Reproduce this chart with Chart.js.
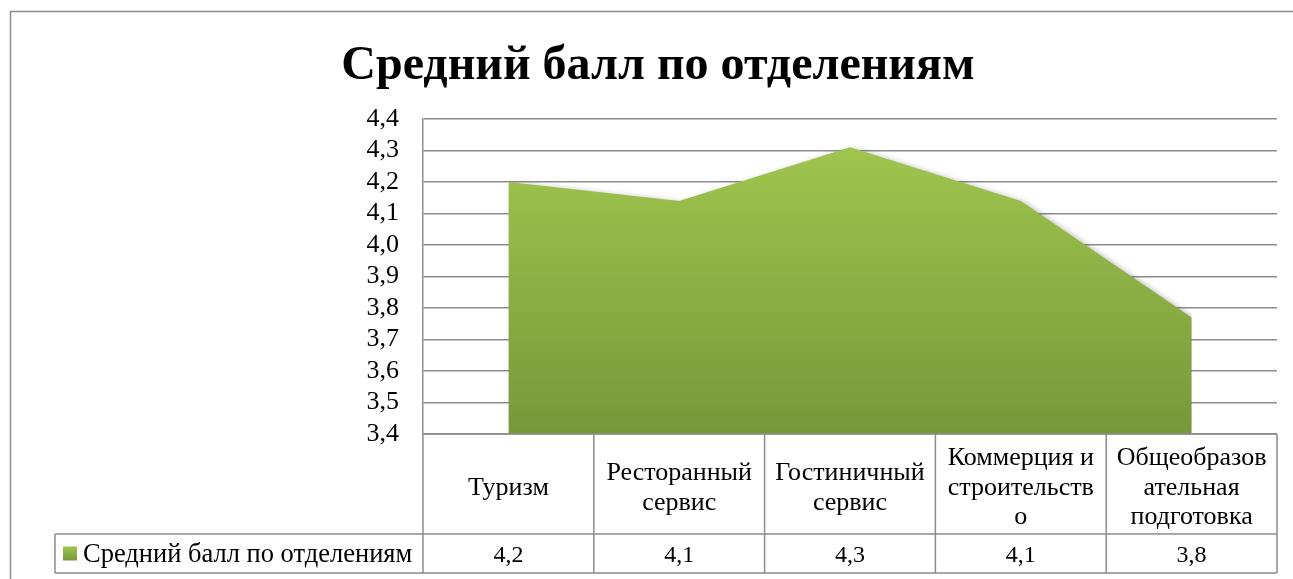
<!DOCTYPE html>
<html>
<head>
<meta charset="utf-8">
<script src="https://cdn.jsdelivr.net/npm/chart.js@4/dist/chart.umd.min.js"></script>
<style>
  html, body { margin: 0; padding: 0; background: #ffffff; }
  #wrap { width: 1293px; height: 579px; position: relative; }
</style>
</head>
<body>
<div id="wrap"><canvas id="c" width="1293" height="579"></canvas></div>
<script>
// ---- data ----
const chartTitle = "Средний балл по отделениям";
const seriesName = "Средний балл по отделениям";
const categories = [
  ["Туризм"],
  ["Ресторанный", "сервис"],
  ["Гостиничный", "сервис"],
  ["Коммерция и", "строительств", "о"],
  ["Общеобразов", "ательная", "подготовка"]
];
const averageScores = [4.2, 4.14, 4.31, 4.14, 3.77];
const yMin = 3.4;
const yMax = 4.4;
const yStep = 0.1;

const fmt = v => v.toFixed(1).replace('.', ',');
const SERIF = '"Liberation Serif", "Times New Roman", serif';
const LINE = '#8c8c8c';

const framePlugin = {
  id: 'frame',
  beforeDraw(chart) {
    const c = chart.ctx;
    c.save();
    c.fillStyle = '#ffffff';
    c.fillRect(0, 0, chart.width, chart.height);
    c.strokeStyle = '#8a8a8a';
    c.lineWidth = 1.5;
    c.strokeRect(10.5, 11.5, 1400, 700);
    c.restore();
  }
};

const titlePlugin = {
  id: 'customTitle',
  afterDraw(chart) {
    const c = chart.ctx;
    c.save();
    c.font = 'bold 48px ' + SERIF;
    c.fillStyle = '#000000';
    c.textAlign = 'center';
    c.textBaseline = 'alphabetic';
    c.fillText(chartTitle, 658, 79);
    c.restore();
  }
};

const shadowPlugin = {
  id: 'areaShadow',
  beforeDatasetsDraw(chart) {
    const c = chart.ctx;
    c.save();
    c.shadowColor = 'rgba(0,0,0,0.35)';
    c.shadowBlur = 6;
    c.shadowOffsetX = 3;
    c.shadowOffsetY = 2;
  },
  afterDatasetsDraw(chart) {
    chart.ctx.restore();
  }
};

const tablePlugin = {
  id: 'dataTable',
  afterDraw(chart) {
    const c = chart.ctx;
    const xs = chart.scales.x;
    const area = chart.chartArea;
    const n = categories.length;
    const step = xs.getPixelForValue(1) - xs.getPixelForValue(0);
    const edges = [area.left];
    for (let i = 0; i < n; i++) edges.push(xs.getPixelForValue(i) + step / 2);
    const r1Top = area.bottom, r1Bot = area.bottom + 100, r2Bot = r1Bot + 39;
    const legLeft = 55;

    c.save();
    c.strokeStyle = LINE;
    c.lineWidth = 1.5;
    c.beginPath();
    // verticals
    edges.forEach(x => { c.moveTo(x, r1Top); c.lineTo(x, r2Bot); });
    c.moveTo(legLeft, r1Bot); c.lineTo(legLeft, r2Bot);
    // horizontals
    c.moveTo(area.left, r1Top); c.lineTo(edges[n], r1Top);
    c.moveTo(legLeft, r1Bot); c.lineTo(edges[n], r1Bot);
    c.moveTo(legLeft, r2Bot); c.lineTo(edges[n], r2Bot);
    c.stroke();

    // category labels
    c.fillStyle = '#000000';
    c.textAlign = 'center';
    c.textBaseline = 'middle';
    c.font = '26px ' + SERIF;
    const lh = 29.5;
    const rowMid = (r1Top + r1Bot) / 2 + 4;
    categories.forEach((lines, i) => {
      const cx = xs.getPixelForValue(i);
      const start = rowMid - (lines.length - 1) * lh / 2;
      lines.forEach((t, k) => c.fillText(t, cx, start + k * lh));
    });

    // values
    const r2Mid = (r1Bot + r2Bot) / 2;
    c.font = '24px ' + SERIF;
    averageScores.forEach((v, i) => {
      c.fillText(fmt(v), xs.getPixelForValue(i), r2Mid + 2);
    });

    // legend key + name
    const g = c.createLinearGradient(0, r2Mid - 7, 0, r2Mid + 7);
    g.addColorStop(0, '#9fc54e');
    g.addColorStop(1, '#77983a');
    c.fillStyle = g;
    c.fillRect(63, r2Mid - 7, 14, 14);
    c.fillStyle = '#000000';
    c.textAlign = 'left';
    c.font = '26.5px ' + SERIF;
    c.fillText(seriesName, 83, r2Mid + 2);
    c.restore();
  }
};

const ctx = document.getElementById('c').getContext('2d');
new Chart(ctx, {
  type: 'line',
  data: {
    labels: categories,
    datasets: [{
      label: seriesName,
      data: averageScores,
      fill: 'start',
      tension: 0,
      borderWidth: 0,
      borderColor: 'rgba(0,0,0,0)',
      pointRadius: 0,
      pointHoverRadius: 0,
      backgroundColor: (context) => {
        const chart = context.chart;
        const a = chart.chartArea;
        if (!a) return '#8db245';
        const yTop = chart.scales.y.getPixelForValue(Math.max(...averageScores));
        const g = chart.ctx.createLinearGradient(0, yTop, 0, a.bottom);
        g.addColorStop(0, '#9fc54e');
        g.addColorStop(1, '#77983a');
        return g;
      }
    }]
  },
  options: {
    responsive: false,
    animation: false,
    events: [],
    layout: { padding: { left: 0, right: 16, top: 119, bottom: 0 } },
    plugins: {
      legend: { display: false },
      title: { display: false },
      tooltip: { enabled: false }
    },
    scales: {
      x: {
        type: 'category',
        offset: true,
        grid: { display: false, drawTicks: false },
        border: { display: false },
        ticks: { display: false },
        afterFit: (s) => { s.height = 145; }
      },
      y: {
        min: yMin,
        max: yMax,
        ticks: {
          stepSize: yStep,
          autoSkip: false,
          padding: 24,
          color: '#000000',
          font: { family: SERIF, size: 26 },
          callback: (v) => fmt(v)
        },
        grid: { color: LINE, lineWidth: 1.5, drawTicks: false },
        border: { display: true, color: LINE, width: 1.5 },
        afterFit: (s) => { s.width = 423; }
      }
    }
  },
  plugins: [framePlugin, shadowPlugin, tablePlugin, titlePlugin]
});
</script>
</body>
</html>
